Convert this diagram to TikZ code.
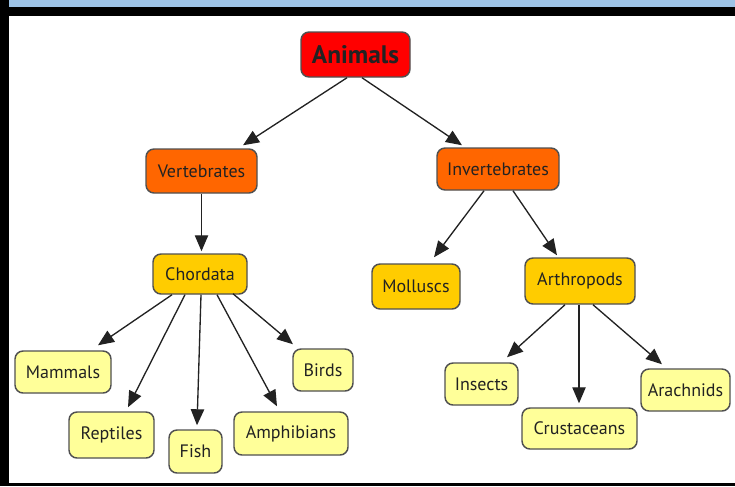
\documentclass[tikz,border=0pt]{standalone}
\usepackage{fontspec}
\setmainfont{PT Sans}
\usetikzlibrary{arrows.meta,calc}
\definecolor{bandblue}{RGB}{157,195,230}
\definecolor{cRed}{RGB}{255,0,0}
\definecolor{cOrange}{RGB}{255,102,0}
\definecolor{cGold}{RGB}{255,204,0}
\definecolor{cLeaf}{RGB}{255,255,153}
\definecolor{cEdge}{RGB}{80,80,80}
\definecolor{cText}{RGB}{34,34,34}
\begin{document}
\begin{tikzpicture}[x=0.75pt,y=-0.75pt,
  box/.style={draw=cEdge, line width=1.1pt, rounded corners=6pt, inner sep=0pt,
    text=cText, font=\fontsize{13.5}{15}\selectfont},
  sz/.style 2 args={minimum width=#1*0.75pt, minimum height=#2*0.75pt},
  rootbox/.style={box, fill=cRed, font=\fontsize{19}{22}\selectfont\bfseries},
  midbox/.style={box, fill=cOrange},
  subbox/.style={box, fill=cGold},
  leafbox/.style={box, fill=cLeaf},
  arr/.style={draw=cText, line width=1pt, -{Triangle[length=12pt,width=10pt]}}]
% frame
\useasboundingbox (0,0) rectangle (735,486);
\fill[black] (0,0) rectangle (9,486);
\fill[bandblue] (9,0) rectangle (735,7);
\fill[black] (9,7) rectangle (735,16);
\fill[black] (9,483) rectangle (735,486);
% nodes
\node[rootbox, sz={109}{45}] (anim) at (355.5,54.5) {Animals};
\node[midbox, sz={111}{44}] (vert) at (201.5,171) {Vertebrates};
\node[midbox, sz={122}{42}] (inv) at (498,169) {Invertebrates};
\node[subbox, sz={94}{40}] (chord) at (200,274) {Chordata};
\node[subbox, sz={88}{45}] (moll) at (416,286.5) {Molluscs};
\node[subbox, sz={110}{46}] (arth) at (580,281) {Arthropods};
\node[leafbox, sz={96}{42}] (mam) at (63,372) {Mammals};
\node[leafbox, sz={85}{46}] (rep) at (111.5,435) {Reptiles};
\node[leafbox, sz={53}{43}] (fish) at (195.5,451.5) {Fish};
\node[leafbox, sz={114}{43}] (amph) at (291,433.5) {Amphibians};
\node[leafbox, sz={60}{42}] (bird) at (323,370) {Birds};
\node[leafbox, sz={73}{42}] (ins) at (481.5,384) {Insects};
\node[leafbox, sz={115}{41}] (crus) at (579.5,428.5) {Crustaceans};
\node[leafbox, sz={89}{42}] (arach) at (685.5,390) {Arachnids};
% connectors
\draw[arr] ($(anim.south)+(-8.5,0)$) -- ($(vert.north)+(41.5,-3)$);
\draw[arr] ($(anim.south)+(6.5,0)$) -- ($(inv.north)+(-36,-2)$);
\draw[arr] (vert.south) -- ($(vert.south |- chord.north)+(0,-2)$);
\draw[arr] ($(inv.south)+(-14,0)$) -- ($(moll.north)+(18,-6)$);
\draw[arr] ($(inv.south)+(15,0)$) -- ($(arth.north)+(-23,-2)$);
\draw[arr] ($(arth.south)+(-15,0)$) -- ($(ins.north)+(25.5,-5)$);
\draw[arr] ($(arth.south)+(-1,0)$) -- ($(crus.north)+(-0.5,-4)$);
\draw[arr] ($(arth.south)+(13,0)$) -- ($(arach.north)+(-23.5,-4)$);
\draw[arr] ($(chord.south)+(-28,0)$) -- ($(mam.north)+(35,-5)$);
\draw[arr] ($(chord.south)+(-15,0)$) -- ($(rep.north)+(16.5,-4)$);
\draw[arr] ($(chord.south)+(1,0)$) -- ($(fish.north)+(1.5,-4)$);
\draw[arr] ($(chord.south)+(17,0)$) -- ($(amph.north)+(-14,-5)$);
\draw[arr] ($(chord.south)+(33,-1)$) -- ($(bird.north)+(-30,-4)$);
\end{tikzpicture}
\end{document}
